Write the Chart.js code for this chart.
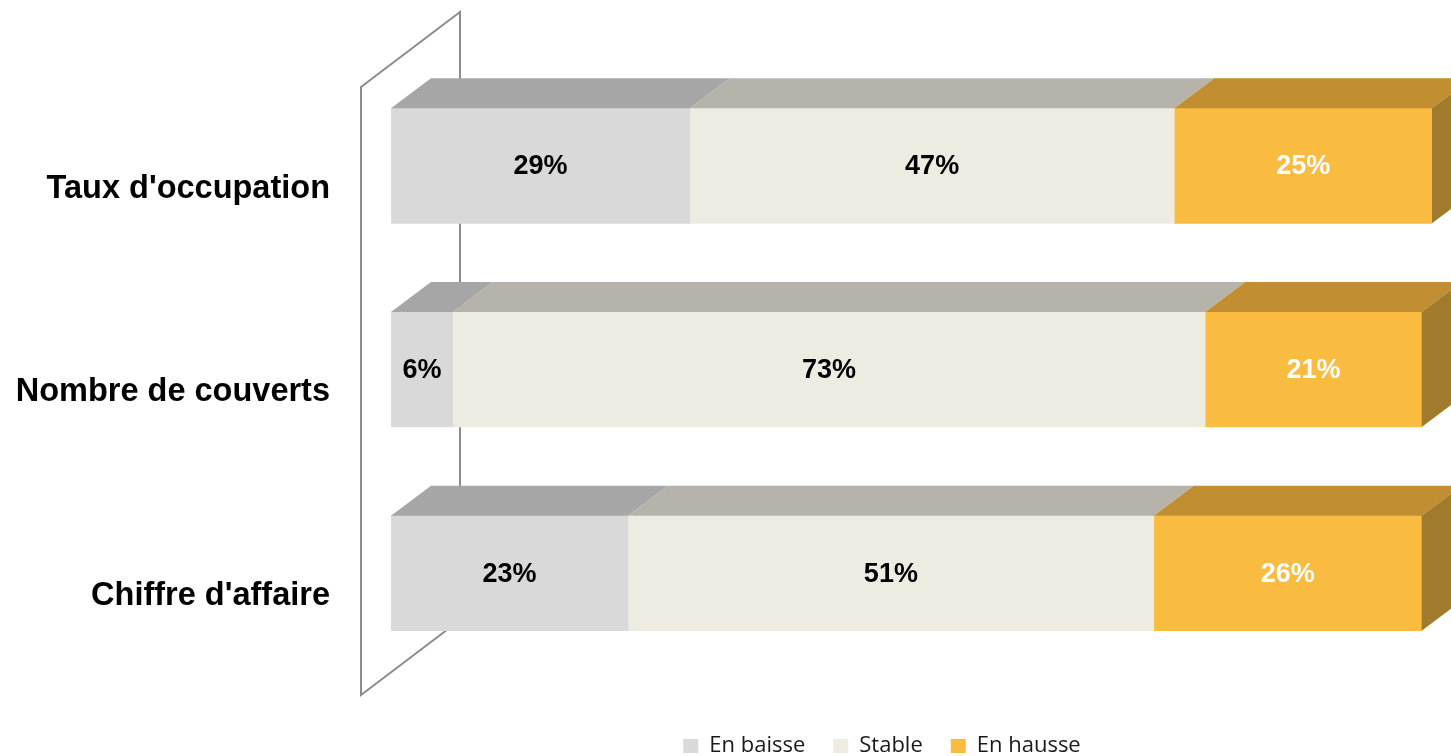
<!DOCTYPE html>
<html>
<head>
<meta charset="utf-8">
<script src="https://cdn.jsdelivr.net/npm/chart.js@4.4.0/dist/chart.umd.min.js"></script>
<style>
  html, body { margin: 0; padding: 0; background: #fff; }
  canvas { display: block; }
</style>
</head>
<body>
<canvas id="chart" width="1451" height="756"></canvas>
<script>
const categories = ["Taux d'occupation", "Nombre de couverts", "Chiffre d'affaire"];
const seriesNames = ['En baisse', 'Stable', 'En hausse'];
const enBaisse = [29, 6, 23];
const stable = [47, 73, 51];
const enHausse = [25, 21, 26];

const frontColors = ['#D9D9D9', '#EEECE1', '#F9BC41'];
const topColors = ['#A6A6A6', '#B6B3AB', '#C18F31'];
const sideColor = '#A07B2B';
const labelColors = ['#000000', '#000000', '#FFFFFF'];
const DEPTH_X = 40, DEPTH_Y = 30;

// fake 3d : back wall, top faces, right side face + value labels
const bar3d = {
    id: 'bar3d',
    afterLayout(chart) {
        // legend is lower and further right than chart.js puts it
        const lg = chart.legend;
        const w = lg.right - lg.left;
        lg.left = 882 - w / 2;
        lg.right = lg.left + w;
        lg.top += 32;
        lg.bottom += 32;
    },
    beforeDatasetsDraw(chart) {
        const { ctx, chartArea: a } = chart;
        const fx = a.left - 30, bx = a.left + 69;
        ctx.save();
        ctx.strokeStyle = '#8C8C8C';
        ctx.lineWidth = 2;
        ctx.beginPath();
        ctx.moveTo(bx, a.bottom - 55);
        ctx.lineTo(fx, a.bottom + 20);
        ctx.lineTo(fx, a.top + 23);
        ctx.lineTo(bx, a.top - 52);
        ctx.closePath();
        ctx.stroke();
        ctx.restore();
    },
    afterDatasetsDraw(chart) {
        const ctx = chart.ctx;
        const last = chart.data.datasets.length - 1;
        ctx.save();
        chart.data.datasets.forEach((ds, di) => {
            chart.getDatasetMeta(di).data.forEach(el => {
                const { x, y, base, height } = el.getProps(['x', 'y', 'base', 'height'], true);
                const top = y - height / 2, bottom = y + height / 2;
                ctx.fillStyle = topColors[di];
                ctx.beginPath();
                ctx.moveTo(base, top);
                ctx.lineTo(base + DEPTH_X, top - DEPTH_Y);
                ctx.lineTo(x + DEPTH_X, top - DEPTH_Y);
                ctx.lineTo(x, top);
                ctx.closePath();
                ctx.fill();
                if (di === last) {
                    ctx.fillStyle = sideColor;
                    ctx.beginPath();
                    ctx.moveTo(x, top);
                    ctx.lineTo(x + DEPTH_X, top - DEPTH_Y);
                    ctx.lineTo(x + DEPTH_X, bottom - DEPTH_Y);
                    ctx.lineTo(x, bottom);
                    ctx.closePath();
                    ctx.fill();
                }
            });
        });
        ctx.font = 'bold 27px "Liberation Sans", Arial, sans-serif';
        ctx.textAlign = 'center';
        ctx.textBaseline = 'middle';
        chart.data.datasets.forEach((ds, di) => {
            chart.getDatasetMeta(di).data.forEach((el, i) => {
                const { x, y, base } = el.getProps(['x', 'y', 'base'], true);
                ctx.fillStyle = labelColors[di];
                ctx.fillText(ds.data[i] + '%', (x + base) / 2, y + 1);
            });
        });
        ctx.restore();
    }
};

const seriesValues = [enBaisse, stable, enHausse];

new Chart(document.getElementById('chart'), {
    type: 'bar',
    data: {
        labels: categories,
        datasets: seriesNames.map((name, i) => ({
            label: name,
            data: seriesValues[i],
            backgroundColor: frontColors[i],
            borderWidth: 0,
            barThickness: 115
        }))
    },
    options: {
        indexAxis: 'y',
        responsive: false,
        animation: false,
        devicePixelRatio: 1,
        layout: { padding: { top: 64, right: 19, bottom: 21, left: 0 } },
        scales: {
            x: {
                stacked: true,
                display: false,
                min: 0,
                max: 101
            },
            y: {
                stacked: true,
                grid: { display: false, drawTicks: false },
                border: { display: false },
                ticks: {
                    color: '#000000',
                    font: { family: '"Liberation Sans", Arial, sans-serif', size: 32.5, weight: 'bold' },
                    padding: 61,
                    labelOffset: 23
                },
                afterFit(scale) {
                    scale.width = 391;
                    scale.paddingTop = 0;
                    scale.paddingBottom = 0;
                }
            }
        },
        plugins: {
            legend: {
                position: 'bottom',
                labels: {
                    color: '#1A1A1A',
                    font: { family: '"Open Sans", sans-serif', size: 22 },
                    boxWidth: 15,
                    boxHeight: 14,
                    padding: 28
                }
            },
            tooltip: { enabled: false }
        }
    },
    plugins: [bar3d]
});
</script>
</body>
</html>
